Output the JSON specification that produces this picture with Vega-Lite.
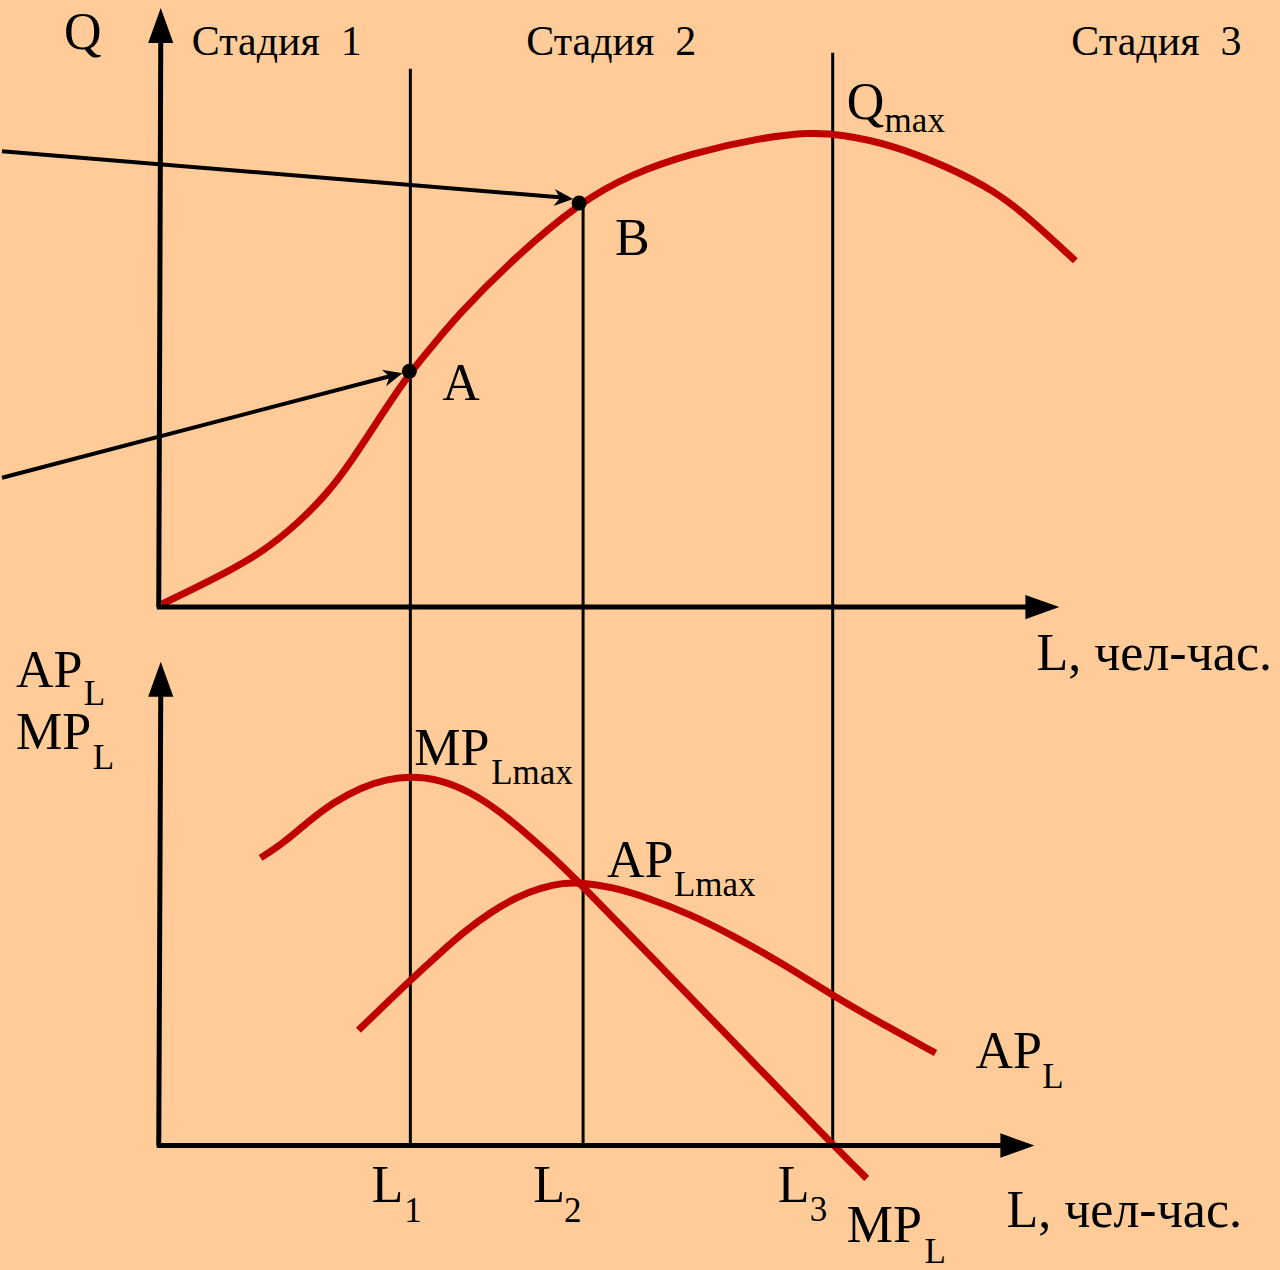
{
  "$schema": "https://vega.github.io/schema/vega-lite/v6.json",
  "autosize": {"type": "fit", "contains": "padding"},
  "width": 1280,
  "height": 1270,
  "padding": 0,
  "background": "#FFCC99",
  "config": {"view": {"stroke": null}},
  "datasets": {
    "segments": [
      {"kind": "axis", "x1": 157, "y1": 610, "x2": 159, "y2": 40},
      {"kind": "axis", "x1": 155, "y1": 610, "x2": 1030, "y2": 610},
      {"kind": "axis", "x1": 157, "y1": 1151, "x2": 159, "y2": 695},
      {"kind": "axis", "x1": 155, "y1": 1151, "x2": 1005, "y2": 1151},
      {"kind": "guide", "x1": 409, "y1": 69, "x2": 409, "y2": 1151},
      {"kind": "guide", "x1": 582, "y1": 204, "x2": 582, "y2": 1151},
      {"kind": "guide", "x1": 832, "y1": 53, "x2": 832, "y2": 1151},
      {"kind": "pointer", "x1": 0, "y1": 480, "x2": 396, "y2": 376},
      {"kind": "pointer", "x1": 0, "y1": 152, "x2": 567, "y2": 199}
    ],
    "curves": [
      {"curve": "Q", "i": 0, "x": 160, "y": 607},
      {"curve": "Q", "i": 1, "x": 212, "y": 582},
      {"curve": "Q", "i": 2, "x": 261, "y": 555},
      {"curve": "Q", "i": 3, "x": 296, "y": 526},
      {"curve": "Q", "i": 4, "x": 325, "y": 497},
      {"curve": "Q", "i": 5, "x": 351, "y": 462},
      {"curve": "Q", "i": 6, "x": 378, "y": 420},
      {"curve": "Q", "i": 7, "x": 408, "y": 375},
      {"curve": "Q", "i": 8, "x": 430, "y": 349},
      {"curve": "Q", "i": 9, "x": 457, "y": 316},
      {"curve": "Q", "i": 10, "x": 512, "y": 260},
      {"curve": "Q", "i": 11, "x": 579, "y": 203},
      {"curve": "Q", "i": 12, "x": 630, "y": 175},
      {"curve": "Q", "i": 13, "x": 690, "y": 154},
      {"curve": "Q", "i": 14, "x": 762, "y": 138},
      {"curve": "Q", "i": 15, "x": 810, "y": 133},
      {"curve": "Q", "i": 16, "x": 840, "y": 135},
      {"curve": "Q", "i": 17, "x": 890, "y": 145},
      {"curve": "Q", "i": 18, "x": 946, "y": 167},
      {"curve": "Q", "i": 19, "x": 995, "y": 192},
      {"curve": "Q", "i": 20, "x": 1030, "y": 220},
      {"curve": "Q", "i": 21, "x": 1075, "y": 262},
      {"curve": "MP", "i": 0, "x": 259, "y": 862},
      {"curve": "MP", "i": 1, "x": 282, "y": 847},
      {"curve": "MP", "i": 2, "x": 306, "y": 826},
      {"curve": "MP", "i": 3, "x": 332, "y": 806},
      {"curve": "MP", "i": 4, "x": 360, "y": 791},
      {"curve": "MP", "i": 5, "x": 385, "y": 783},
      {"curve": "MP", "i": 6, "x": 409, "y": 780},
      {"curve": "MP", "i": 7, "x": 438, "y": 783},
      {"curve": "MP", "i": 8, "x": 468, "y": 795},
      {"curve": "MP", "i": 9, "x": 500, "y": 816},
      {"curve": "MP", "i": 10, "x": 530, "y": 842},
      {"curve": "MP", "i": 11, "x": 557, "y": 866},
      {"curve": "MP", "i": 12, "x": 582, "y": 891},
      {"curve": "MP", "i": 13, "x": 647, "y": 958},
      {"curve": "MP", "i": 14, "x": 728, "y": 1042},
      {"curve": "MP", "i": 15, "x": 831, "y": 1149},
      {"curve": "MP", "i": 16, "x": 866, "y": 1184},
      {"curve": "AP", "i": 0, "x": 357, "y": 1035},
      {"curve": "AP", "i": 1, "x": 383, "y": 1010},
      {"curve": "AP", "i": 2, "x": 410, "y": 984},
      {"curve": "AP", "i": 3, "x": 437, "y": 959},
      {"curve": "AP", "i": 4, "x": 463, "y": 936},
      {"curve": "AP", "i": 5, "x": 490, "y": 916},
      {"curve": "AP", "i": 6, "x": 516, "y": 901},
      {"curve": "AP", "i": 7, "x": 540, "y": 892},
      {"curve": "AP", "i": 8, "x": 562, "y": 887},
      {"curve": "AP", "i": 9, "x": 582, "y": 887},
      {"curve": "AP", "i": 10, "x": 610, "y": 891},
      {"curve": "AP", "i": 11, "x": 647, "y": 902},
      {"curve": "AP", "i": 12, "x": 690, "y": 919},
      {"curve": "AP", "i": 13, "x": 730, "y": 939},
      {"curve": "AP", "i": 14, "x": 780, "y": 967},
      {"curve": "AP", "i": 15, "x": 830, "y": 999},
      {"curve": "AP", "i": 16, "x": 882, "y": 1029},
      {"curve": "AP", "i": 17, "x": 935, "y": 1058}
    ],
    "heads": [
      {"head": "up", "x": 159, "y": 8},
      {"head": "up", "x": 159, "y": 665},
      {"head": "right", "x": 1059, "y": 610},
      {"head": "right", "x": 1034, "y": 1151},
      {"head": "toA", "x": 401, "y": 375},
      {"head": "toB", "x": 572, "y": 200}
    ],
    "dots": [
      {"name": "A", "x": 408, "y": 373},
      {"name": "B", "x": 578, "y": 204}
    ],
    "labels": [
      {"role": "main", "t": "Q", "x": 62, "y": 49},
      {"role": "main", "t": "A", "x": 441, "y": 402},
      {"role": "main", "t": "B", "x": 614, "y": 256},
      {"role": "main", "t": "Q", "x": 846, "y": 120},
      {"role": "main", "t": "L, чел-час.", "x": 1036, "y": 673},
      {"role": "main", "t": "AP", "x": 14, "y": 690},
      {"role": "main", "t": "MP", "x": 14, "y": 753},
      {"role": "main", "t": "MP", "x": 413, "y": 769},
      {"role": "main", "t": "AP", "x": 606, "y": 881},
      {"role": "main", "t": "AP", "x": 975, "y": 1073},
      {"role": "main", "t": "L", "x": 370, "y": 1208},
      {"role": "main", "t": "L", "x": 532, "y": 1208},
      {"role": "main", "t": "L", "x": 777, "y": 1208},
      {"role": "main", "t": "MP", "x": 846, "y": 1248},
      {"role": "main", "t": "L, чел-час.", "x": 1006, "y": 1233},
      {"role": "sub", "t": "max", "x": 884, "y": 133},
      {"role": "sub", "t": "L", "x": 82, "y": 708},
      {"role": "sub", "t": "L", "x": 91, "y": 773},
      {"role": "sub", "t": "Lmax", "x": 490, "y": 788},
      {"role": "sub", "t": "Lmax", "x": 673, "y": 900},
      {"role": "sub", "t": "L", "x": 1042, "y": 1093},
      {"role": "sub", "t": "1", "x": 403, "y": 1228},
      {"role": "sub", "t": "2", "x": 563, "y": 1228},
      {"role": "sub", "t": "3", "x": 809, "y": 1227},
      {"role": "sub", "t": "L", "x": 924, "y": 1269},
      {"role": "stage", "t": "Стадия\u00a0\u00a01", "x": 190, "y": 55},
      {"role": "stage", "t": "Стадия\u00a0\u00a02", "x": 525, "y": 55},
      {"role": "stage", "t": "Стадия\u00a0\u00a03", "x": 1071, "y": 55}
    ]
  },
  "encoding": {
    "x": {"field": "x", "type": "quantitative", "scale": {"domain": [0, 1280], "nice": false, "zero": false}, "axis": null},
    "y": {"field": "y", "type": "quantitative", "scale": {"domain": [0, 1270], "nice": false, "zero": false, "reverse": true}, "axis": null}
  },
  "layer": [
    {
      "data": {"name": "segments"},
      "transform": [{"filter": "datum.kind === 'guide'"}],
      "mark": {"type": "rule", "color": "black", "strokeWidth": 3},
      "encoding": {
        "x": {"field": "x1", "type": "quantitative"},
        "y": {"field": "y1", "type": "quantitative"},
        "x2": {"field": "x2"},
        "y2": {"field": "y2"}
      }
    },
    {
      "data": {"name": "segments"},
      "transform": [{"filter": "datum.kind === 'pointer'"}],
      "mark": {"type": "rule", "color": "black", "strokeWidth": 4},
      "encoding": {
        "x": {"field": "x1", "type": "quantitative"},
        "y": {"field": "y1", "type": "quantitative"},
        "x2": {"field": "x2"},
        "y2": {"field": "y2"}
      }
    },
    {
      "data": {"name": "curves"},
      "mark": {"type": "line", "color": "#C00000", "strokeWidth": 7, "interpolate": "basis", "strokeCap": "butt"},
      "encoding": {
        "detail": {"field": "curve", "type": "nominal"},
        "order": {"field": "i", "type": "quantitative"}
      }
    },
    {
      "data": {"name": "segments"},
      "transform": [{"filter": "datum.kind === 'axis'"}],
      "mark": {"type": "rule", "color": "black", "strokeWidth": 5},
      "encoding": {
        "x": {"field": "x1", "type": "quantitative"},
        "y": {"field": "y1", "type": "quantitative"},
        "x2": {"field": "x2"},
        "y2": {"field": "y2"}
      }
    },
    {
      "data": {"name": "heads"},
      "transform": [{"filter": "datum.head === 'up'"}],
      "mark": {"type": "point", "shape": "M0,0 L-1,-0.36 L-1,0.36 Z", "filled": true, "color": "black", "opacity": 1, "size": 4900, "angle": -90, "strokeWidth": 0}
    },
    {
      "data": {"name": "heads"},
      "transform": [{"filter": "datum.head === 'right'"}],
      "mark": {"type": "point", "shape": "M0,0 L-1,-0.36 L-1,0.36 Z", "filled": true, "color": "black", "opacity": 1, "size": 4624, "angle": 0, "strokeWidth": 0}
    },
    {
      "data": {"name": "heads"},
      "transform": [{"filter": "datum.head === 'toA'"}],
      "mark": {"type": "point", "shape": "M0,0 L-1,-0.45 L-0.7,0 L-1,0.45 Z", "filled": true, "color": "black", "opacity": 1, "size": 1444, "angle": -14.7, "strokeWidth": 0}
    },
    {
      "data": {"name": "heads"},
      "transform": [{"filter": "datum.head === 'toB'"}],
      "mark": {"type": "point", "shape": "M0,0 L-1,-0.45 L-0.7,0 L-1,0.45 Z", "filled": true, "color": "black", "opacity": 1, "size": 1444, "angle": 4.8, "strokeWidth": 0}
    },
    {
      "data": {"name": "dots"},
      "mark": {"type": "circle", "color": "black", "opacity": 1, "size": 225}
    },
    {
      "data": {"name": "labels"},
      "transform": [{"filter": "datum.role === 'main'"}],
      "mark": {"type": "text", "font": "Liberation Serif", "fontSize": 52, "align": "left", "baseline": "alphabetic", "color": "black"},
      "encoding": {"text": {"field": "t", "type": "nominal"}}
    },
    {
      "data": {"name": "labels"},
      "transform": [{"filter": "datum.role === 'sub'"}],
      "mark": {"type": "text", "font": "Liberation Serif", "fontSize": 35, "align": "left", "baseline": "alphabetic", "color": "black"},
      "encoding": {"text": {"field": "t", "type": "nominal"}}
    },
    {
      "data": {"name": "labels"},
      "transform": [{"filter": "datum.role === 'stage'"}],
      "mark": {"type": "text", "font": "Liberation Serif", "fontSize": 42, "align": "left", "baseline": "alphabetic", "color": "black"},
      "encoding": {"text": {"field": "t", "type": "nominal"}}
    }
  ]
}
